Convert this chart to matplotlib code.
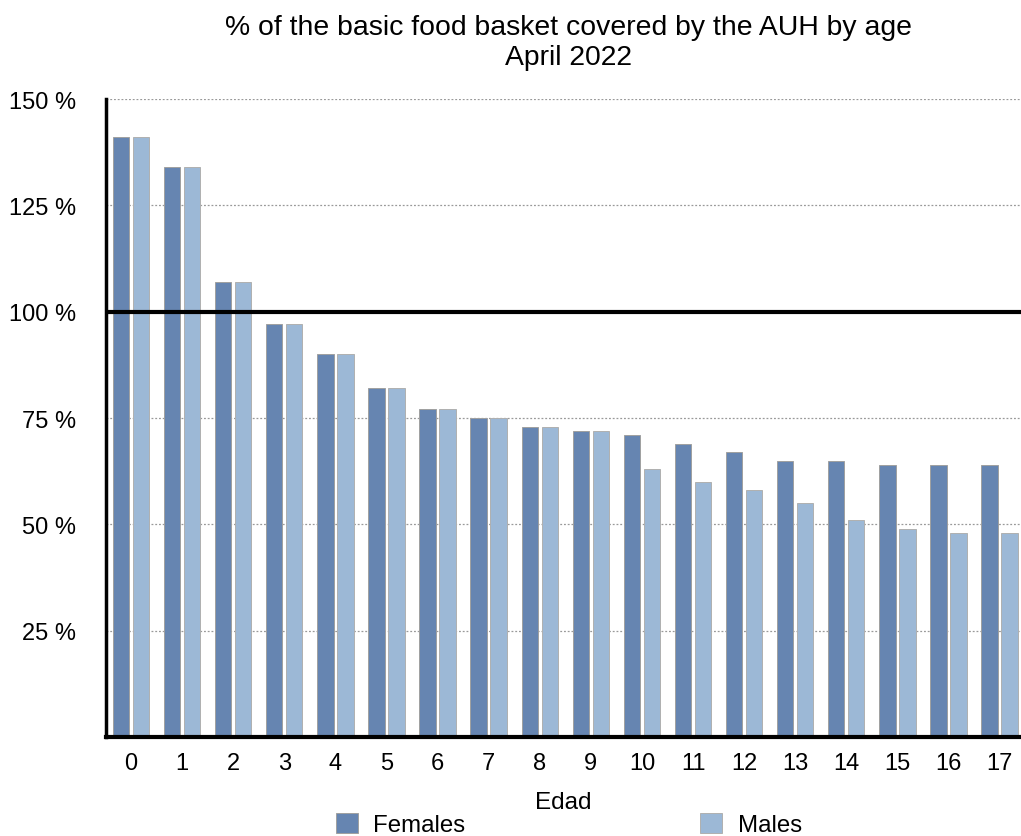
import numpy as np
import matplotlib.pyplot as plt

plt.rcParams['font.family'] = ['Liberation Sans', 'DejaVu Sans']

ages = list(range(18))
females = [141, 134, 107, 97, 90, 82, 77, 75, 73, 72, 71, 69, 67, 65, 65, 64, 64, 64]
males = [141, 134, 107, 97, 90, 82, 77, 75, 73, 72, 63, 60, 58, 55, 51, 49, 48, 48]
yticks = [25, 50, 75, 100, 125, 150]

c_fem = '#6685b1'
c_mal = '#9cb8d6'

fig = plt.figure(figsize=(10.21, 8.37), dpi=100)
ax = fig.add_axes([0.1038, 0.1183, 0.8962, 0.7622])

x = np.arange(len(ages))
w = 0.32
ax.bar(x - 0.196, females, w, color=c_fem, edgecolor='#a0a0a0', linewidth=0.7,
       label='Females', zorder=2)
ax.bar(x + 0.196, males, w, color=c_mal, edgecolor='#b0b0b0', linewidth=0.7,
       label='Males', zorder=2)

ax.set_ylim(0, 150)
ax.set_xlim(-0.49, 17.42)
ax.set_yticks(yticks)
ax.set_yticklabels([f'{v} %' for v in yticks])
ax.set_xticks(x)
ax.set_xticklabels([str(a) for a in ages])
ax.tick_params(axis='both', length=0, labelsize=17)
ax.tick_params(axis='y', pad=21.5)
ax.tick_params(axis='x', pad=11)

for v in yticks:
    if v != 100:
        ax.axhline(v, color='#999999', linestyle=(0, (1.5, 1.5)), linewidth=0.9, zorder=1)
ax.axhline(100, color='black', linewidth=3, zorder=3)

for s in ['top', 'right']:
    ax.spines[s].set_visible(False)
ax.spines['left'].set_linewidth(2.5)
ax.spines['bottom'].set_linewidth(3)
ax.spines['bottom'].set_zorder(4)

ax.set_xlabel('Edad', fontsize=17.5, labelpad=12)
fig.suptitle('% of the basic food basket covered by the AUH by age\nApril 2022',
             fontsize=20.4, y=0.982, x=0.557, linespacing=1.2)

fig.legend(loc='center', bbox_to_anchor=(0.557, 0.0135), ncol=2, frameon=False,
           fontsize=17.3, handlelength=0.93, handleheight=0.93, handletextpad=0.64,
           columnspacing=9.75, borderpad=0, borderaxespad=0)

fig.savefig('out.png', dpi=100)
